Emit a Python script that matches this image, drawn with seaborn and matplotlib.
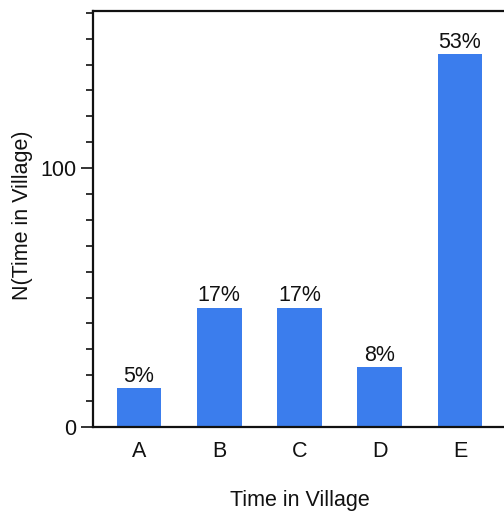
import numpy as np
import pandas as pd
import seaborn as sns
import matplotlib.pyplot as plt
from matplotlib.ticker import MultipleLocator

# values
categories = ['A', 'B', 'C', 'D', 'E']
counts = [15, 46, 46, 23, 144]

df = pd.DataFrame({'time': categories, 'n': counts})
df['pct'] = df['n'] / df['n'].sum() * 100

sns.set_style('ticks')
plt.rcParams['font.family'] = ['Liberation Sans', 'DejaVu Sans']
fs = 15.5

fig = plt.figure(figsize=(5.04, 5.16), dpi=100)
ax = fig.add_axes([93 / 504, 89 / 516, 413 / 504, 416 / 516])

sns.barplot(data=df, x='time', y='n', color='#3b7ded', saturation=1,
            width=0.56, linewidth=0, ax=ax)

for i, row in df.iterrows():
    ax.text(i, row['n'] + 0.6, f"{round(row['pct']):.0f}%", ha='center',
            va='bottom', fontsize=fs, color='#111111')

ax.set_xlim(-0.573, 4.573)
ax.set_ylim(0, 160.7)
ax.yaxis.set_major_locator(MultipleLocator(100))
ax.yaxis.set_minor_locator(MultipleLocator(10))
ax.tick_params(axis='y', which='major', length=8.9, width=1.2, labelsize=fs,
               pad=3.2, colors='#111111')
ax.tick_params(axis='y', which='minor', length=5, width=1.2, colors='#111111')
ax.tick_params(axis='x', length=0, labelsize=fs, pad=10, colors='#111111')

for side in ['left', 'top', 'bottom']:
    ax.spines[side].set_linewidth(1.6)
    ax.spines[side].set_color('#111111')
ax.spines['right'].set_visible(False)

ax.set_xlabel('Time in Village', fontsize=fs, labelpad=20, color='#111111')
ax.set_ylabel('N(Time in Village)', fontsize=fs, color='#111111')
ax.yaxis.set_label_coords(-0.145, 0.51)

fig.savefig('out.png', dpi=100)
